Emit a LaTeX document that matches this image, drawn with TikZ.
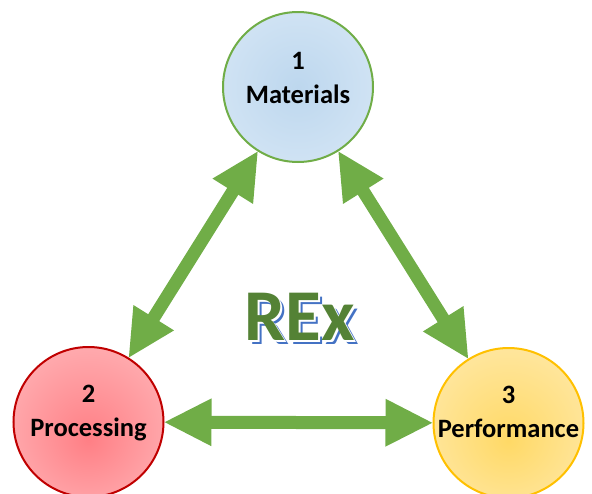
\documentclass[tikz,border=0pt]{standalone}
\usepackage{fontspec}
\setmainfont{Carlito}
\usetikzlibrary{arrows.meta}
\definecolor{agreen}{HTML}{70AD47}
\definecolor{rexgreen}{HTML}{548235}
\definecolor{rexblue}{HTML}{4472C4}
\definecolor{mIn}{HTML}{BDD7EE}
\definecolor{mOut}{HTML}{E2EEF9}
\definecolor{pIn}{HTML}{FF7F85}
\definecolor{pOut}{HTML}{FFCCCE}
\definecolor{fIn}{HTML}{FFD966}
\definecolor{fOut}{HTML}{FFF0C8}
\definecolor{mBorder}{HTML}{70AD47}
\definecolor{pBorder}{HTML}{C00000}
\definecolor{fBorder}{HTML}{FFC000}
\pgfdeclareradialshading{matshade}{\pgfpoint{0bp}{0bp}}{color(0bp)=(mIn); color(50bp)=(mOut)}
\pgfdeclareradialshading{proshade}{\pgfpoint{0bp}{-6bp}}{color(0bp)=(pIn); color(50bp)=(pOut)}
\pgfdeclareradialshading{perfshade}{\pgfpoint{0bp}{-6bp}}{color(0bp)=(fIn); color(50bp)=(fOut)}
\tikzset{
  ball/.style={circle, minimum size=150pt, inner sep=0pt, outer sep=0pt, line width=2pt},
  balltext/.style={align=center, inner sep=0pt, font=\fontsize{26.5}{34}\selectfont\bfseries, text=black},
  bigarrow/.style={draw=agreen, line width=13pt,
    {Triangle[length=48pt,width=44pt,fill=agreen]}-{Triangle[length=48pt,width=44pt,fill=agreen]}},
  rexfont/.style={font=\fontsize{73}{73}\selectfont\bfseries, inner sep=0pt}
}
\begin{document}
\begin{tikzpicture}[x=1pt,y=-1pt]
\useasboundingbox (0,0) rectangle (592,493);
\node[ball, draw=mBorder, shading=matshade] (M) at (298,87) {};
\node[ball, draw=pBorder, shading=proshade] (P) at (88.5,422) {};
\node[ball, draw=fBorder, shading=perfshade] (F) at (508.5,423) {};
\node[balltext] (Mtext) at (298,78) {1\\Materials};
\node[balltext] (Ptext) at (88.5,413) {2\\Processing};
\node[balltext] (Ftext) at (508.5,412) {3\\Performance};
\draw[bigarrow] (P) -- (M);
\draw[bigarrow] (M) -- (F);
\draw[bigarrow] (P) -- (F);
\node[rexfont, text=rexblue] (rexshadow) at (303.5,320.5) {REx};
\node[rexfont, text=white] (rexgap) at (301.5,318.5) {REx};
\node[rexfont, text=rexgreen] (rex) at (300,317) {REx};
\end{tikzpicture}
\end{document}
